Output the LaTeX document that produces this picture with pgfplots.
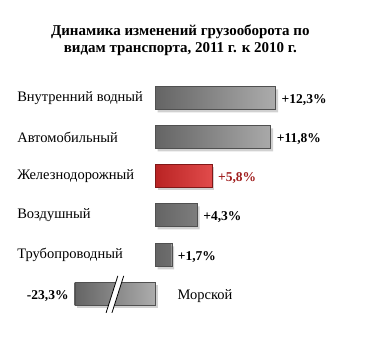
\documentclass[border=0pt]{standalone}
\usepackage{pgfplots}
\pgfplotsset{compat=1.18}
\usepackage{pgfplotstable}
\usepackage{fontspec}
\setmainfont{Liberation Serif}
\definecolor{bardark}{RGB}{100,100,100}
\definecolor{barlight}{RGB}{172,172,172}
\definecolor{barline}{RGB}{80,80,80}
\definecolor{reddark}{RGB}{185,35,35}
\definecolor{redlight}{RGB}{225,75,75}
\definecolor{redtext}{RGB}{160,30,30}
\pgfplotstableread{
y x lab
98 12.3 +12,3
137 11.8 +11,8
215 4.3 +4,3
255 1.7 +1,7
}\grey
\pgfplotstableread{
y x lab
176 5.8 +5,8
}\red
\pgfplotstableread{
y x lab
294 -23.3 -23,3
}\sea
\begin{document}
\begin{tikzpicture}
\begin{axis}[
  scale only axis, width=368pt, height=357pt,
  xmin=-15.82, xmax=21.73, ymin=0, ymax=357, y dir=reverse,
  axis line style={draw=none}, xtick=\empty,
  ytick={98,137,176,215,255},
  yticklabels={Внутренний водный, Автомобильный, Железнодорожный, Воздушный, Трубопроводный},
  major tick length=0pt,
  yticklabel style={anchor=west, inner sep=0pt, xshift=17pt, font=\fontsize{14.5}{16}\selectfont},
  xbar, bar width=23, bar shift=0pt,
  nodes near coords={\pgfplotspointmeta\%},
  point meta=explicit symbolic,
  every node near coord/.append style={font=\fontsize{13.5}{15}\selectfont\bfseries, inner sep=0pt, anchor=west, xshift=6pt, yshift=-2pt},
  title={Динамика изменений грузооборота по\\видам транспорта, 2011 г. к 2010 г.},
  title style={at={(axis description cs:0.49,0.925)}, anchor=north, align=center, font=\fontsize{15}{17}\selectfont\bfseries},
  clip=false,
]
% shadows
\addplot[fill=black!30, draw=none, opacity=0.6, xshift=2.5pt, yshift=-3pt, nodes near coords={}] table[x=x, y=y, meta=lab] \grey;
\addplot[fill=black!30, draw=none, opacity=0.6, xshift=2.5pt, yshift=-3pt, nodes near coords={}] table[x=x, y=y, meta=lab] \red;
\addplot[fill=black!30, draw=none, opacity=0.6, xshift=2.5pt, yshift=-3pt, nodes near coords={}, restrict x to domain*=-8.2:30] table[x=x, y=y, meta=lab] \sea;
% bars
\addplot[left color=bardark, right color=barlight, draw=barline] table[x=x, y=y, meta=lab] \grey;
\addplot[left color=reddark, right color=redlight, draw=reddark!70!black,
  every node near coord/.append style={text=redtext}] table[x=x, y=y, meta=lab] \red;
\addplot[left color=bardark, right color=barlight, draw=barline, restrict x to domain*=-8.2:30,
  every node near coord/.append style={anchor=east, xshift=-12pt}] table[x=x, y=y, meta=lab] \sea;
% break mark
\fill[white] (axis cs:-5.0,313) -- (axis cs:-3.8,276) -- (axis cs:-3.2,276) -- (axis cs:-4.4,313) -- cycle;
\draw[black, line width=0.8pt] (axis cs:-5.0,313) -- (axis cs:-3.8,276);
\draw[black, line width=0.8pt] (axis cs:-4.4,313) -- (axis cs:-3.2,276);
\node[anchor=west, font=\fontsize{14.5}{16}\selectfont] at (axis cs:1.95,296) {Морской};
\end{axis}
\end{tikzpicture}
\end{document}
